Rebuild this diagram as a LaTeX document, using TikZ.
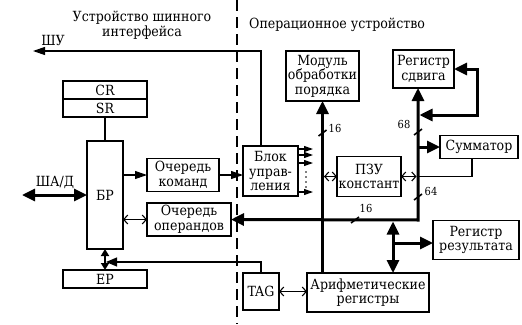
\documentclass[tikz,border=0pt]{standalone}
\usepackage{fontspec}
\setmainfont{DejaVu Serif Condensed}
\usepackage{tikz}
\usetikzlibrary{arrows.meta,positioning}

\begin{document}
\begin{tikzpicture}[
  x=1pt, y=-1pt,
  box/.style={draw, line width=1.1pt, fill=white, align=center, inner sep=0pt, outer sep=0pt,
    font=\fontsize{14}{14.5}\selectfont},
  txt/.style={align=center, inner sep=0pt, font=\fontsize{14}{15}\selectfont},
  lbl/.style={inner sep=0pt, font=\fontsize{11}{11}\selectfont},
  wire/.style={line width=1.1pt},
  bus/.style={line width=3pt},
  big/.style={-{Triangle[length=13pt,width=12pt]}},
  bigbig/.style={{Triangle[length=13pt,width=12pt]}-{Triangle[length=13pt,width=12pt]}},
  fine/.style={-{Triangle[length=12pt,width=8pt]}},
  open/.style={{Straight Barb[length=4pt,width=9pt]}-{Straight Barb[length=4pt,width=9pt]}},
]
  \useasboundingbox (0,0) rectangle (522,324);

  % dividing line
  \draw[line width=1.4pt, dash pattern=on 11pt off 6pt] (237,0) -- (237,324);

  % titles
  \node[txt] (titleL) at (142,25) {Устройство шинного\\интерфейса};
  \node[txt, anchor=west] (titleR) at (249,25) {Операционное устройство};
  \node[txt] (shu) at (53,40) {ШУ};
  \node[txt] (shad) at (55,182) {ША/Д};

  % bus interface unit
  \node[box, minimum width=84pt, minimum height=18pt] (cr) at (105,90) {CR};
  \node[box, minimum width=84pt, minimum height=18pt, below=0pt of cr] (sr) {SR};
  \node[box, minimum width=36pt, minimum height=108pt] (br) at (105,195) {БР};
  \node[box, minimum width=84pt, minimum height=18pt] (ep) at (105,279) {EP};
  \node[box, minimum width=72pt, minimum height=33pt] (qcmd) at (183,175) {Очередь\\команд};
  \node[box, minimum width=84pt, minimum height=33pt] (qop) at (189,219.5) {Очередь\\операндов};

  % execution unit
  \node[box, minimum width=55pt, minimum height=50pt] (cu) at (270.5,171) {Блок\\управ-\\ления};
  \node[box, minimum width=73pt, minimum height=50pt] (mod) at (322.5,76) {Модуль\\обработки\\порядка};
  \node[box, minimum width=61pt, minimum height=38pt] (shift) at (423.5,69) {Регистр\\сдвига};
  \node[box, minimum width=64pt, minimum height=40pt] (rom) at (369,176.5) {ПЗУ\\констант};
  \node[box, minimum width=78pt, minimum height=23pt] (adder) at (479,147) {Сумматор};
  \node[box, minimum width=86pt, minimum height=39pt] (res) at (476,240) {Регистр\\результата};
  \node[box, minimum width=36pt, minimum height=37pt] (tag) at (261,291.5) {TAG};
  \node[box, minimum width=122pt, minimum height=39pt] (ar) at (368,292.5) {Арифметические\\регистры};

  \coordinate (shuEnd) at (33,51);
  \coordinate (shadEnd) at (22,195);
  \coordinate (epJ) at (105,262);
  \coordinate (bR) at (418,220);
  \coordinate (fbA) at (477,68);
  \coordinate (fbB) at (477,115);
  \coordinate (rTop) at (393,220);
  \coordinate (rBr) at (393,243);

  % bus interface connections
  \draw[wire, fine] ([xshift=-9.5pt]cu.north) |- (shuEnd);
  \draw[wire] (sr.south) -- (br.north);
  \draw[bus, bigbig] (shadEnd) -- (br.west);
  \draw[wire, fine] (br.east |- qcmd) -- (qcmd.west);
  \draw[wire, fine] (qcmd.east) -- (cu.west |- qcmd.east);
  \draw[wire, open] (br.east |- qop) -- (qop.west);
  \draw[line width=2pt, {Triangle[length=7pt,width=8pt]}-{Triangle[length=7pt,width=8pt]}] (br.south) -- (ep.north);
  \draw[wire, -{Triangle[length=11pt,width=9pt]}, shorten >=1pt] (tag.north) |- (epJ);

  % control outputs
  \foreach \y in {149,155,163,192}
    \draw[wire, -{Triangle[length=9pt,width=6pt]}] (cu.east |- 0,\y) -- ++(15,0);
  \foreach \y in {172,177,182,187}
    \fill (306,\y) circle (0.9pt);

  % data buses
  \draw[bus, bigbig, line join=miter] (qop.east) -- (bR) -- (bR |- shift.south);
  \draw[bus, big] (mod.south |- ar.north) -- (mod.south);
  \draw[bus, bigbig, shorten >=1.5pt] (shift.east) -- (shift.east -| fbA) -- (fbB) -- (bR |- fbB);
  \draw[bus, big] (bR |- adder.west) -- (adder.west);
  \draw[wire] ([xshift=-7pt]adder.south) |- (bR |- rom.east);
  \draw[wire, open, shorten >=1.5pt] (rom.east) -- (bR |- rom.east);
  \draw[wire, open, shorten <=1.5pt] (mod.south |- rom.west) -- (rom.west);
  \draw[wire, open] (tag.east) -- (ar.west |- tag.east);
  \draw[bus, bigbig, shorten <=1.5pt] (rTop) -- (rTop |- ar.north);
  \draw[bus, big] (rBr) -- (res.west |- rBr);

  % bus widths
  \foreach \x/\y in {322.5/133, 418/132, 418/197, 355/220}
    \draw[line width=1.6pt] (\x-4,\y+3) -- (\x+4,\y-3);
  \node[lbl] (w16a) at (335,128) {16};
  \node[lbl] (w68) at (404,124) {68};
  \node[lbl] (w64) at (431,191) {64};
  \node[lbl] (w16b) at (366,208) {16};
\end{tikzpicture}
\end{document}
